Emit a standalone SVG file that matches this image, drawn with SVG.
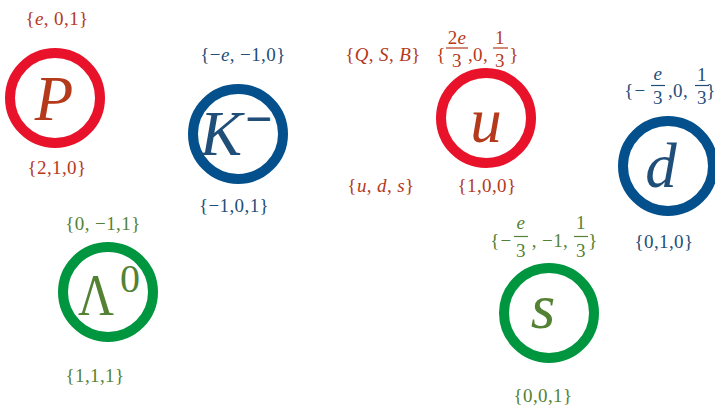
<svg xmlns="http://www.w3.org/2000/svg" width="715" height="407" viewBox="0 0 715 407">
<style>
.ring{fill:none;stroke-width:10}
.rr{stroke:#E8132B}.rb{stroke:#03508C}.rg{stroke:#00963F}
text{font-family:"Liberation Serif","Times New Roman",serif}
.big{font-size:63px;font-style:italic}
.lb{font-size:19px;letter-spacing:0.4px}
.it{font-style:italic}
.m{text-anchor:middle}
.r{fill:#B5391B}.b{fill:#1F4E79}.g{fill:#548235}
.fr{stroke-width:1.2}
.fr.r{stroke:#B5391B}.fr.b{stroke:#1F4E79}.fr.g{stroke:#548235}
</style>
<g id="connectors"/>
<g id="legend">
<text class="lb r m" x="383" y="61">{<tspan class="it">Q</tspan>, <tspan class="it">S</tspan>, <tspan class="it">B</tspan>}</text>
<text class="lb r m" x="381" y="192">{<tspan class="it">u</tspan>, <tspan class="it">d</tspan>, <tspan class="it">s</tspan>}</text>
</g>
<g id="node-P">
<circle class="ring rr" cx="55" cy="98" r="45"/>
<text class="big r m" x="54" y="120">P</text>
<text class="lb r m" x="57" y="25">{<tspan class="it">e</tspan>, 0,1}</text>
<text class="lb r m" x="57" y="174">{2,1,0}</text>
</g>
<g id="node-K">
<circle class="ring rb" cx="238" cy="134" r="45"/>
<text class="big b" x="200" y="155">K</text>
<text class="b" x="245" y="135" font-size="48" font-weight="bold">−</text>
<text class="lb b m" x="243" y="61">{−<tspan class="it">e</tspan>, −1,0}</text>
<text class="lb b m" x="234" y="212">{−1,0,1}</text>
</g>
<g id="node-u">
<circle class="ring rr" cx="486" cy="118" r="45"/>
<text class="big r m" x="486" y="142">u</text>
<text class="lb r m" x="441" y="61">{</text>
<text class="lb r m" x="457" y="44">2<tspan class="it">e</tspan></text>
<line class="fr r" x1="446" y1="48" x2="468" y2="48"/>
<text class="lb r m" x="457" y="67">3</text>
<text class="lb r m" x="478" y="61">,0,</text>
<text class="lb r m" x="500" y="44">1</text>
<line class="fr r" x1="493" y1="48" x2="508" y2="48"/>
<text class="lb r m" x="500" y="67">3</text>
<text class="lb r m" x="514" y="61">}</text>
<text class="lb r m" x="487" y="192">{1,0,0}</text>
</g>
<g id="node-d">
<circle class="ring rb" cx="668" cy="166" r="45"/>
<text class="big b m" x="661" y="187">d</text>
<text class="lb b m" x="629" y="97">{</text>
<text class="lb b m" x="640" y="97">−</text>
<text class="lb b m it" x="658" y="80">e</text>
<line class="fr b" x1="651" y1="85.5" x2="665" y2="85.5"/>
<text class="lb b m" x="658" y="104">3</text>
<text class="lb b m" x="678" y="97">,0,</text>
<text class="lb b m" x="702" y="81">1</text>
<line class="fr b" x1="695" y1="85.5" x2="709" y2="85.5"/>
<text class="lb b m" x="702" y="104">3</text>
<text class="lb b m" x="711" y="97">}</text>
<text class="lb b m" x="664" y="248">{0,1,0}</text>
</g>
<g id="node-Lambda">
<circle class="ring rg" cx="108" cy="292" r="45"/>
<text class="g" x="78" y="315" font-size="60" textLength="36" lengthAdjust="spacingAndGlyphs">Λ</text>
<text class="g" x="120" y="292" font-size="40">0</text>
<text class="lb g m" x="103" y="230">{0, −1,1}</text>
<text class="lb g m" x="95" y="382">{1,1,1}</text>
</g>
<g id="node-s">
<circle class="ring rg" cx="549" cy="313" r="45"/>
<text class="big g m" x="543" y="328">s</text>
<text class="lb g m" x="495" y="247">{</text>
<text class="lb g m" x="506" y="247">−</text>
<text class="lb g m it" x="521" y="229">e</text>
<line class="fr g" x1="514" y1="236.5" x2="528" y2="236.5"/>
<text class="lb g m" x="521" y="257">3</text>
<text class="lb g m" x="550" y="247">, −1,</text>
<text class="lb g m" x="581" y="229">1</text>
<line class="fr g" x1="574" y1="236.5" x2="588" y2="236.5"/>
<text class="lb g m" x="581" y="257">3</text>
<text class="lb g m" x="593" y="247">}</text>
<text class="lb g m" x="543" y="402">{0,0,1}</text>
</g>
</svg>
